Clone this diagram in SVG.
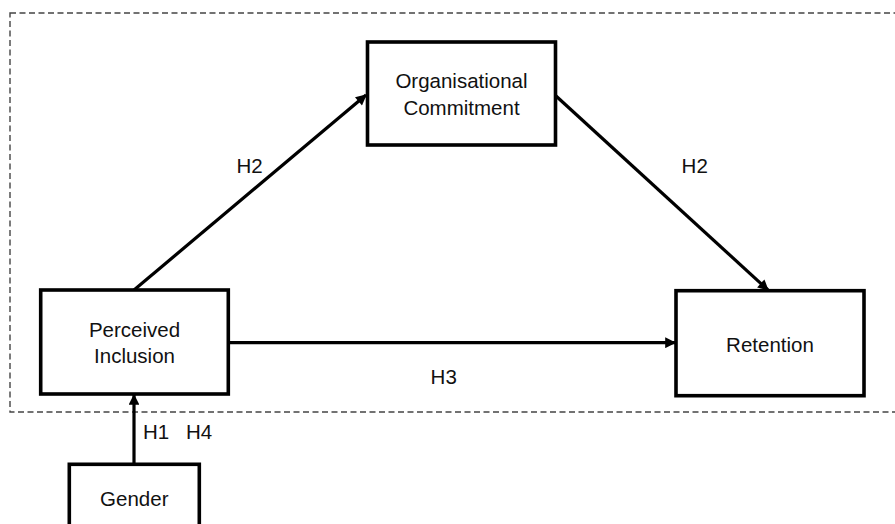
<svg xmlns="http://www.w3.org/2000/svg" width="895" height="524" viewBox="0 0 895 524">
  <style>
    .box { fill: #fff; stroke: #000; stroke-width: 3.6; }
    .lbl { font-family: "Liberation Sans", Arial, sans-serif; font-size: 20.5px; fill: #111; text-anchor: middle; }
    .edge { stroke: #000; stroke-width: 3.2; fill: none; marker-end: url(#arrow); }
    .frame { fill: none; stroke: #444; stroke-width: 1.4; stroke-dasharray: 6 3.5; }
  </style>
  <defs>
    <marker id="arrow" viewBox="0 0 10 10" refX="9" refY="5" markerWidth="4.2" markerHeight="3.4" orient="auto" markerUnits="strokeWidth">
      <path d="M0,0 L10,5 L0,10 z" fill="#000"/>
    </marker>
  </defs>

  <!-- dashed boundary around the mediation model -->
  <rect class="frame" x="10" y="13" width="900" height="399"/>

  <g id="connectors">
    <line class="edge" x1="134" y1="290" x2="366" y2="95"/>
    <line class="edge" x1="556" y1="96" x2="768" y2="290"/>
    <line class="edge" x1="229" y1="342.7" x2="675" y2="342.7"/>
    <line class="edge" x1="134" y1="464" x2="134" y2="395"/>
    <text class="lbl" x="249.5" y="173.3">H2</text>
    <text class="lbl" x="694.7" y="173.3">H2</text>
    <text class="lbl" x="443.7" y="384">H3</text>
    <text class="lbl" x="156" y="439.3">H1</text>
    <text class="lbl" x="199" y="439.3">H4</text>
  </g>

  <g id="organisational-commitment">
    <rect class="box" x="367.5" y="42" width="188" height="103"/>
    <text class="lbl" x="461.5" y="88.3">Organisational</text>
    <text class="lbl" x="461.5" y="115">Commitment</text>
  </g>

  <g id="perceived-inclusion">
    <rect class="box" x="40.7" y="290" width="187.6" height="104"/>
    <text class="lbl" x="134.5" y="336.7">Perceived</text>
    <text class="lbl" x="134.5" y="363">Inclusion</text>
  </g>

  <g id="retention">
    <rect class="box" x="676" y="290.7" width="188" height="105"/>
    <text class="lbl" x="770" y="351.7">Retention</text>
  </g>

  <g id="gender">
    <rect class="box" x="69.3" y="464.3" width="130" height="80"/>
    <text class="lbl" x="134.3" y="506">Gender</text>
  </g>
</svg>
